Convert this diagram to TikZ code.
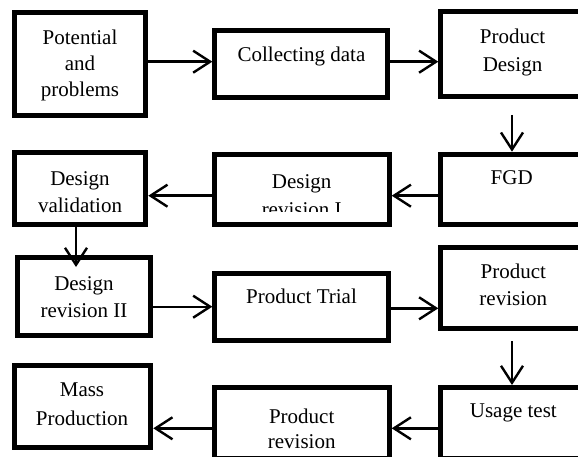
\documentclass[tikz,border=0pt]{standalone}
\usepackage{fontspec}
\setmainfont{Liberation Serif}
\usetikzlibrary{arrows.meta}
\begin{document}
\begin{tikzpicture}[x=1pt,y=-1pt,
  box/.style={draw=black, line width=5pt, fill=white, inner sep=0pt},
  lbl/.style={font=\fontsize{21}{27}\selectfont, align=center, anchor=base, inner sep=0pt},
  arr/.style={line width=2.4pt, -{Straight Barb[length=17pt,width=22pt]}}]
\path[use as bounding box] (0,0) rectangle (578,457);
\clip (0,0) rectangle (578,457);
% boxes
\node[box, minimum width=131.6pt, minimum height=103pt]  (A)   at (80,64) {};
\node[box, minimum width=172.7pt, minimum height=66.7pt] (B)   at (301.2,64.2) {};
\node[box, minimum width=159.2pt, minimum height=85pt]   (C)   at (520.4,54) {};
\node[box, minimum width=159.2pt, minimum height=70pt]   (FGD) at (520.4,189.2) {};
\node[box, minimum width=175pt,   minimum height=70pt]   (DR1) at (301.7,189.2) {};
\node[box, minimum width=131.6pt, minimum height=71.7pt] (DV)  at (80,188.4) {};
\node[box, minimum width=133.3pt, minimum height=78pt]   (DR2) at (84.2,296.5) {};
\node[box, minimum width=173.7pt, minimum height=67.3pt] (PT)  at (301.7,306.9) {};
\node[box, minimum width=159.2pt, minimum height=81pt]   (PR)  at (520.4,288) {};
\node[box, minimum width=159.2pt, minimum height=71pt]   (UT)  at (520.4,423) {};
\node[box, minimum width=175pt,   minimum height=71pt]   (PRB) at (301.7,423) {};
\node[box, minimum width=136.6pt, minimum height=81.7pt] (MP)  at (82.5,406.7) {};
% labels (anchor = baseline of the last line)
\node[lbl, font=\fontsize{21}{26}\selectfont] (tA) at (80,97) {Potential\\and\\problems};
\node[lbl] (tB) at (301.5,62) {Collecting data};
\node[lbl, font=\fontsize{21}{28.5}\selectfont] (tC) at (512.5,72) {Product\\Design};
\node[lbl] (tFGD) at (511.7,185) {FGD};
\begin{scope}
\clip (210,150) rectangle (395,212);
\node[lbl, font=\fontsize{21}{28}\selectfont] (tDR1) at (301.7,216) {Design\\revision I};
\end{scope}
\node[lbl] (tDV) at (80,212) {Design\\validation};
\node[lbl] (tDR2) at (84,317) {Design\\revision II};
\node[lbl] (tPT) at (301.5,303.3) {Product Trial};
\node[lbl] (tPR) at (513.3,305.3) {Product\\revision};
\node[lbl] (tUT) at (513.3,417.3) {Usage test};
\node[lbl, font=\fontsize{21}{25}\selectfont] (tPRB) at (301.7,448.3) {Product\\revision};
\node[lbl, font=\fontsize{21}{28.3}\selectfont] (tMP) at (82,425) {Mass\\Production};
% connector helpers
\coordinate (r1) at (0,61.7);
\coordinate (r2) at (0,195.7);
\coordinate (r3a) at (0,306.7);
\coordinate (r3b) at (0,308.3);
\coordinate (r4) at (0,428.3);
\coordinate (cf) at (512,115);
\coordinate (dd) at (76,267);
\coordinate (pu) at (512,341);
% connectors
\draw[arr] (A.east |- r1) -- (B.west |- r1);
\draw[arr] (B.east |- r1) -- (C.west |- r1);
\draw[arr] (cf) -- (FGD.north -| cf);
\draw[arr] (FGD.west |- r2) -- (DR1.east |- r2);
\draw[arr] (DR1.west |- r2) -- (DV.east |- r2);
\draw[arr] (DV.south -| dd) -- (dd);
\draw[arr] (DR2.east |- r3a) -- (PT.west |- r3a);
\draw[arr] (PT.east |- r3b) -- (PR.west |- r3b);
\draw[arr] (pu) -- (UT.north -| pu);
\draw[arr] (UT.west |- r4) -- (PRB.east |- r4);
\draw[arr] (PRB.west |- r4) -- (MP.east |- r4);
\end{tikzpicture}
\end{document}
